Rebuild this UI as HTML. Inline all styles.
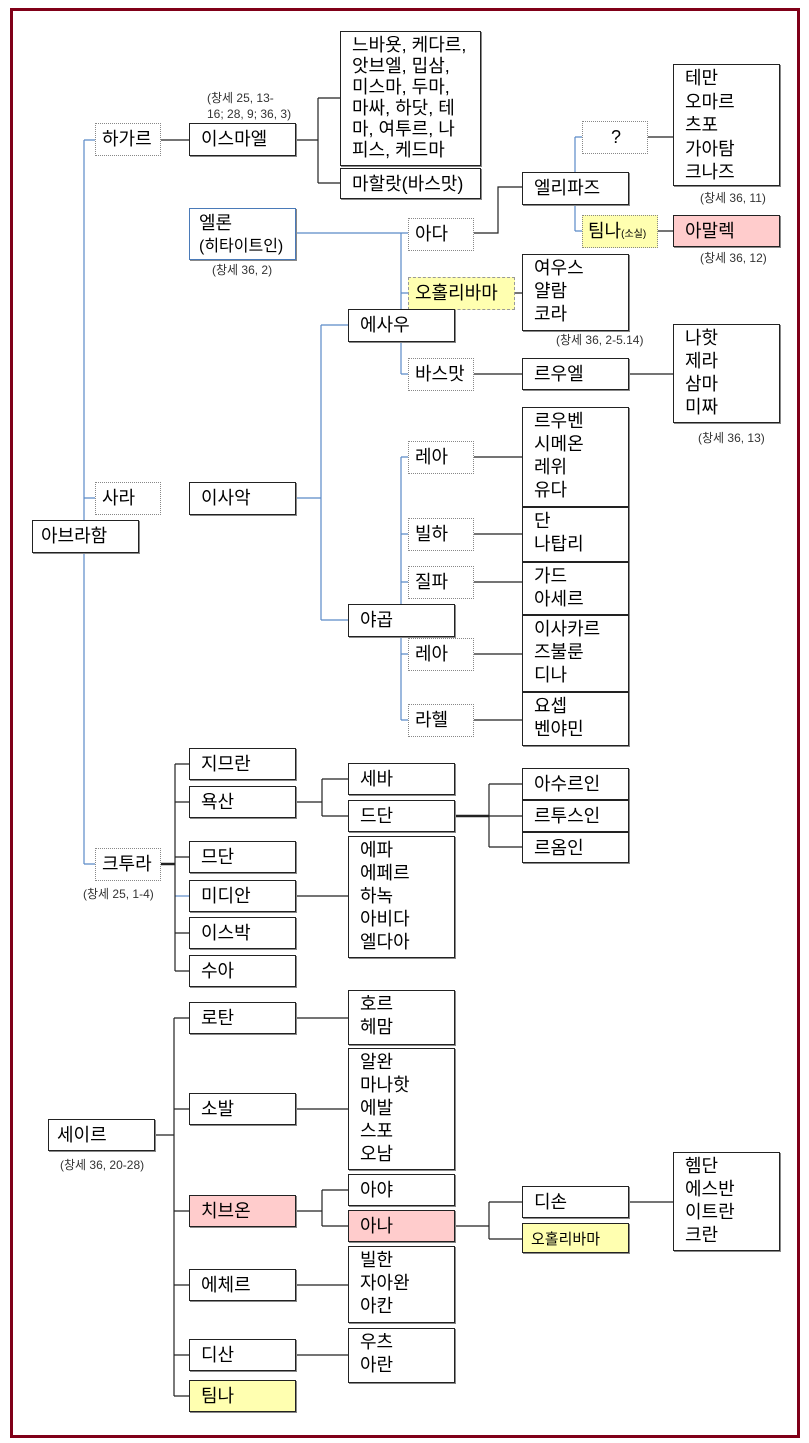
<!DOCTYPE html>
<html><head><meta charset="utf-8"><style>
body{margin:0;width:809px;height:1443px;background:#fff;position:relative;overflow:hidden;font-family:"Liberation Sans","Noto Sans CJK KR",sans-serif;}
.f{position:absolute;left:10px;top:8px;width:784px;height:1424px;border:3px solid #800018;}
.b{position:absolute;box-sizing:border-box;border:1px solid #222;background:#fff;font-size:18px;line-height:23px;padding:4px 0 0 11px;color:#000;box-shadow:1px 1px 0 #888;white-space:nowrap;}
.d{border:1px dotted #888;box-shadow:none;padding-left:6px;}
.bl{border-color:#4a7ab8;}
.y{background:#ffffb0;}
.p{background:#ffcccc;}
.n{position:absolute;font-size:12px;color:#333;line-height:16px;white-space:nowrap;}
svg{position:absolute;left:0;top:0;}
</style></head><body>
<div class="f"></div>
<svg width="809" height="1443">
<g stroke="#5b8ac8" stroke-width="1.2" fill="none">
<path d="M84 140V864M84 140H95M84 498H95M84 864H95M84 520V552"/>
<path d="M296 233H401M401 233V374M401 233H408M401 293H408M401 374H408"/>
<path d="M575 137V172M575 204V231M575 137H582M575 231H582"/>
<path d="M296 498H321M321 325V620M321 325H348M321 620H348"/>
<path d="M401 457V720M401 457H408M401 534H408M401 582H408M401 654H408M401 720H408"/>
<path d="M175 896H189"/>
</g>
<g stroke="#222" stroke-width="1.2" fill="none">
<path d="M161 140H189M296 140H318M318 98V183M318 98H340M318 183H340"/>
<path d="M474 233H498V187H522M648 137H673M658 231H673M515 293H522M474 374H522M629 374H673"/>
<path d="M474 457H522M474 534H522M474 582H522M474 654H522M474 720H522"/>
<path d="M175 764V971M175 764H189M175 802H189M175 857H189M175 933H189M175 971H189"/>
<path d="M296 802H322M322 779V816M322 779H348M322 816H348"/>
<path d="M489 784V847M489 784H522M489 816H522M489 847H522M296 896H348"/>
<path d="M155 1135H174M174 1018V1396M174 1018H189M174 1109H189M174 1211H189M174 1285H189M174 1355H189M174 1396H189"/>
<path d="M296 1018H348M296 1109H348M296 1211H322M322 1190V1226M322 1190H348M322 1226H348"/>
<path d="M455 1226H489M489 1202V1239M489 1202H522M489 1239H522M629 1202H673M296 1285H348M296 1355H348"/>
</g>
<g stroke="#222" stroke-width="2.5"><path d="M161 864H175M455 816H489"/></g>
</svg>
<div class="b d" style="left:95px;top:123px;width:66px;height:33px">하가르</div>
<div class="b" style="left:189px;top:123px;width:107px;height:33px">이스마엘</div>
<div class="n" style="left:207px;top:90px">(창세 25, 13-<br>16; 28, 9; 36, 3)</div>
<div class="b" style="left:340px;top:31px;width:141px;height:135px;line-height:21px;padding-top:3px">느바욧, 케다르,<br>앗브엘, 밉삼,<br>미스마, 두마,<br>마싸, 하닷, 테<br>마, 여투르, 나<br>피스, 케드마</div>
<div class="b" style="left:340px;top:168px;width:141px;height:31px">마할랏(바스맛)</div>
<div class="b bl" style="left:189px;top:208px;width:107px;height:52px;line-height:22px;padding-left:9px;padding-top:3px">엘론<br><span style="font-size:16px">(히타이트인)</span></div>
<div class="n" style="left:212px;top:262px">(창세 36, 2)</div>
<div class="b d" style="left:408px;top:218px;width:66px;height:33px">아다</div>
<div class="b" style="left:522px;top:172px;width:107px;height:33px">엘리파즈</div>
<div class="b d" style="left:582px;top:121px;width:66px;height:33px;padding-left:28px">?</div>
<div class="b" style="left:673px;top:64px;width:107px;height:122px;line-height:23.5px;padding-top:2px">테만<br>오마르<br>츠포<br>가아탐<br>크나즈</div>
<div class="n" style="left:700px;top:190px">(창세 36, 11)</div>
<div class="b d y" style="left:582px;top:215px;width:76px;height:33px;padding-left:5px">팀나<span style="font-size:10px">(소실)</span></div>
<div class="b p" style="left:673px;top:215px;width:107px;height:32px">아말렉</div>
<div class="n" style="left:700px;top:250px">(창세 36, 12)</div>
<div class="b y" style="left:408px;top:277px;width:107px;height:33px;border:1px dashed #999;box-shadow:none;padding-left:6px">오홀리바마</div>
<div class="b" style="left:522px;top:254px;width:107px;height:77px;padding-top:2px">여우스<br>얄람<br>코라</div>
<div class="n" style="left:556px;top:332px">(창세 36, 2-5.14)</div>
<div class="b" style="left:348px;top:309px;width:107px;height:33px">에사우</div>
<div class="b d" style="left:408px;top:358px;width:66px;height:33px">바스맛</div>
<div class="b" style="left:522px;top:358px;width:107px;height:32px">르우엘</div>
<div class="b" style="left:673px;top:324px;width:107px;height:99px;padding-top:2px">나핫<br>제라<br>삼마<br>미짜</div>
<div class="n" style="left:698px;top:430px">(창세 36, 13)</div>
<div class="b d" style="left:408px;top:441px;width:66px;height:33px">레아</div>
<div class="b" style="left:522px;top:407px;width:107px;height:100px;padding-top:2px">르우벤<br>시메온<br>레위<br>유다</div>
<div class="b d" style="left:95px;top:482px;width:66px;height:33px">사라</div>
<div class="b" style="left:189px;top:482px;width:107px;height:33px">이사악</div>
<div class="b" style="left:32px;top:520px;width:107px;height:33px;padding-left:8px">아브라함</div>
<div class="b d" style="left:408px;top:518px;width:66px;height:33px">빌하</div>
<div class="b" style="left:522px;top:507px;width:107px;height:55px;padding-top:2px">단<br>나탑리</div>
<div class="b d" style="left:408px;top:566px;width:66px;height:33px">질파</div>
<div class="b" style="left:522px;top:562px;width:107px;height:53px;padding-top:2px">가드<br>아세르</div>
<div class="b" style="left:348px;top:604px;width:107px;height:33px">야곱</div>
<div class="b d" style="left:408px;top:638px;width:66px;height:33px">레아</div>
<div class="b" style="left:522px;top:615px;width:107px;height:77px;padding-top:2px">이사카르<br>즈불룬<br>디나</div>
<div class="b d" style="left:408px;top:704px;width:66px;height:33px">라헬</div>
<div class="b" style="left:522px;top:692px;width:107px;height:54px;padding-top:2px">요셉<br>벤야민</div>
<div class="b" style="left:189px;top:748px;width:107px;height:32px">지므란</div>
<div class="b" style="left:189px;top:786px;width:107px;height:32px">욕산</div>
<div class="b" style="left:348px;top:763px;width:107px;height:32px">세바</div>
<div class="b" style="left:348px;top:800px;width:107px;height:32px">드단</div>
<div class="b" style="left:522px;top:768px;width:107px;height:32px">아수르인</div>
<div class="b" style="left:522px;top:800px;width:107px;height:32px">르투스인</div>
<div class="b" style="left:522px;top:832px;width:107px;height:31px">르옴인</div>
<div class="b" style="left:189px;top:841px;width:107px;height:32px">므단</div>
<div class="b d" style="left:95px;top:848px;width:66px;height:33px">크투라</div>
<div class="n" style="left:83px;top:886px">(창세 25, 1-4)</div>
<div class="b" style="left:189px;top:880px;width:107px;height:32px">미디안</div>
<div class="b" style="left:348px;top:836px;width:107px;height:122px;line-height:23px;padding-top:2px">에파<br>에페르<br>하녹<br>아비다<br>엘다아</div>
<div class="b" style="left:189px;top:917px;width:107px;height:32px">이스박</div>
<div class="b" style="left:189px;top:955px;width:107px;height:32px">수아</div>
<div class="b" style="left:189px;top:1002px;width:107px;height:32px">로탄</div>
<div class="b" style="left:348px;top:990px;width:107px;height:55px;padding-top:2px">호르<br>헤맘</div>
<div class="b" style="left:348px;top:1048px;width:107px;height:122px;line-height:23px;padding-top:2px">알완<br>마나핫<br>에발<br>스포<br>오남</div>
<div class="b" style="left:189px;top:1093px;width:107px;height:32px">소발</div>
<div class="b" style="left:48px;top:1119px;width:107px;height:32px;padding-left:8px">세이르</div>
<div class="n" style="left:60px;top:1157px">(창세 36, 20-28)</div>
<div class="b p" style="left:189px;top:1195px;width:107px;height:32px">치브온</div>
<div class="b" style="left:348px;top:1174px;width:107px;height:32px">아야</div>
<div class="b p" style="left:348px;top:1210px;width:107px;height:32px">아나</div>
<div class="b" style="left:522px;top:1186px;width:107px;height:32px">디손</div>
<div class="b y" style="left:522px;top:1223px;width:107px;height:30px;font-size:15px;padding-left:8px">오홀리바마</div>
<div class="b" style="left:673px;top:1152px;width:107px;height:99px;padding-top:2px">헴단<br>에스반<br>이트란<br>크란</div>
<div class="b" style="left:189px;top:1269px;width:107px;height:32px">에체르</div>
<div class="b" style="left:348px;top:1246px;width:107px;height:77px;padding-top:2px">빌한<br>자아완<br>아칸</div>
<div class="b" style="left:189px;top:1339px;width:107px;height:32px">디산</div>
<div class="b" style="left:348px;top:1328px;width:107px;height:55px;padding-top:2px">우츠<br>아란</div>
<div class="b y" style="left:189px;top:1380px;width:107px;height:32px">팀나</div>
</body></html>
